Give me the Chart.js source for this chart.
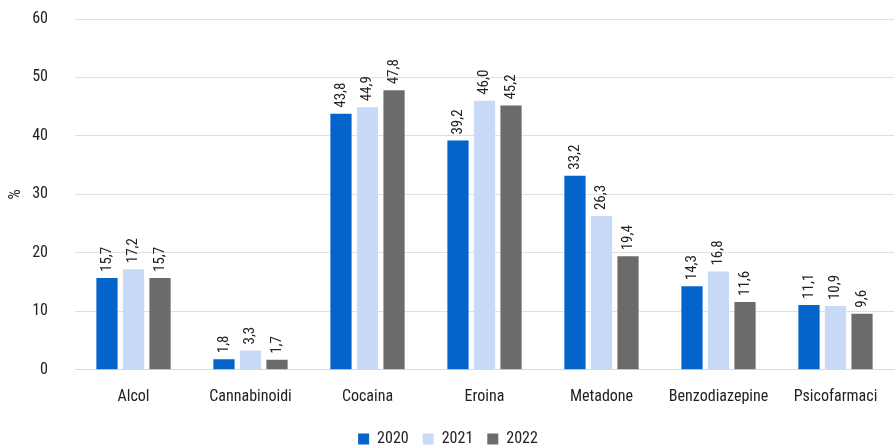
<!DOCTYPE html>
<html>
<head>
<meta charset="utf-8">
<script src="https://cdn.jsdelivr.net/npm/chart.js@4"></script>
<style>
  html,body{margin:0;padding:0;background:#fff;}
  #wrap{width:896px;height:448px;}
</style>
</head>
<body>
<div id="wrap"><canvas id="chart" width="896" height="448"></canvas></div>
<script>
const categories=["Alcol","Cannabinoidi","Cocaina","Eroina","Metadone","Benzodiazepine","Psicofarmaci"];
const years=["2020","2021","2022"];
const values2020=[15.7,1.8,43.8,39.2,33.2,14.3,11.1];
const values2021=[17.2,3.3,44.9,46.0,26.3,16.8,10.9];
const values2022=[15.7,1.7,47.8,45.2,19.4,11.6,9.6];
const colors=["#0563cc","#c9daf8","#6b6b6b"];

const fontFamily="'Roboto Condensed','Roboto',sans-serif";

// value labels, rotated, above each bar
const barLabels={
  id:"barLabels",
  afterDatasetsDraw(chart){
    const ctx=chart.ctx;
    ctx.save();
    ctx.font="15px "+fontFamily;
    ctx.fillStyle="#222";
    ctx.textAlign="left";
    ctx.textBaseline="middle";
    chart.data.datasets.forEach((ds,i)=>{
      chart.getDatasetMeta(i).data.forEach((bar,j)=>{
        const txt=ds.data[j].toFixed(1).replace(".",",");
        ctx.save();
        ctx.translate(bar.x,bar.y-6);
        ctx.rotate(-Math.PI/2);
        ctx.fillText(txt,0,0);
        ctx.restore();
      });
    });
    ctx.restore();
  }
};

Chart.defaults.font.family=fontFamily;
Chart.defaults.font.size=16;
Chart.defaults.color="#222";

new Chart(document.getElementById("chart"),{
  type:"bar",
  data:{
    labels:categories,
    datasets:[
      {label:years[0],data:values2020,backgroundColor:colors[0]},
      {label:years[1],data:values2021,backgroundColor:colors[1]},
      {label:years[2],data:values2022,backgroundColor:colors[2]},
    ]
  },
  options:{
    responsive:false,
    animation:false,
    layout:{padding:{top:0,right:2,left:2,bottom:-9}},
    datasets:{bar:{categoryPercentage:0.68,barPercentage:0.8}},
    scales:{
      x:{
        grid:{display:false},
        border:{display:true,color:"#d9d9d9"},
        ticks:{padding:10}
      },
      y:{
        min:0,max:60,
        ticks:{stepSize:10,padding:27},
        grid:{color:"#e0e0e0",drawTicks:false},
        border:{display:false},
        title:{display:true,text:"%",padding:{top:4,bottom:0}},
        afterFit(scale){
          scale.width=73;
          // tick padding is horizontal here, don't let it push the top down
          scale.paddingTop=19;
          scale.paddingBottom=10;
        }
      }
    },
    plugins:{
      legend:{
        position:"bottom",
        labels:{boxWidth:11,boxHeight:11,padding:14}
      },
      tooltip:{enabled:false}
    }
  },
  plugins:[barLabels]
});
</script>
</body>
</html>
